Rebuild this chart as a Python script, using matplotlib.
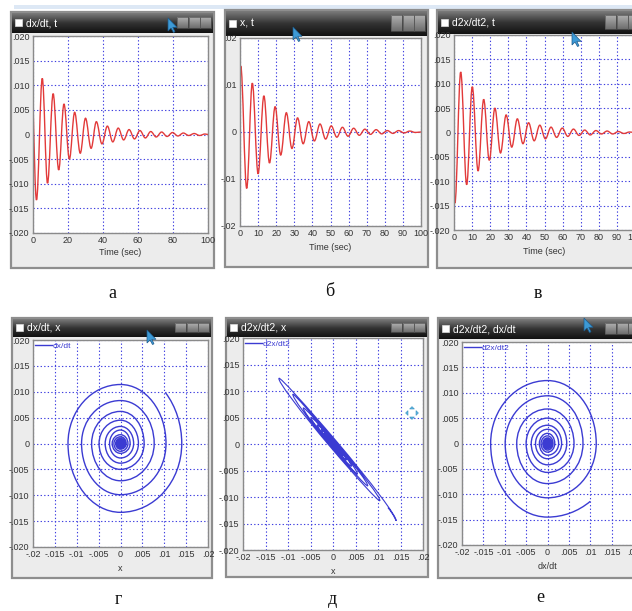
import numpy as np
import matplotlib
matplotlib.use('Agg')
import matplotlib.pyplot as plt
from matplotlib.path import Path
from matplotlib.patches import PathPatch, Rectangle, Polygon
from matplotlib.lines import Line2D
from matplotlib.colors import LinearSegmentedColormap

# ---------------- data ----------------
# dx/dt(t): start value and successive extrema
v_start = (0.0, 0.0065)
v_t = [2.0, 5.3, 8.3, 11.5, 14.7, 17.7, 20.8, 23.8, 27.0, 30.0, 33.2, 36.2, 39.4, 42.5,
       45.6, 48.7, 51.8, 54.9, 58.0, 61.1, 64.2, 67.3, 70.4, 73.5, 76.6, 79.7, 82.8,
       85.9, 89.0, 92.1, 95.2, 98.3]
v_y = [-0.0133, 0.0114, -0.0099, 0.0083, -0.0072, 0.0062, -0.0050, 0.0045, -0.0038,
       0.0033, -0.0028, 0.0026, -0.0019, 0.0017, -0.0015, 0.0013, -0.0011, 0.0010,
       -0.0009, 0.0008, -0.0007, 0.0006, -0.0005, 0.0005, -0.0004, 0.0004, -0.0003,
       0.0003, -0.0002, 0.0002, -0.0002, 0.0001]
# x(t)
x_start = (0.0, 0.0122)
x_t = [0.4, 3.7, 6.8, 10.0, 13.2, 16.3, 19.4, 22.5, 25.6, 28.7, 31.8, 34.9, 38.0, 41.1,
       44.2, 47.3, 50.4, 53.5, 56.6, 59.7, 62.8, 65.9, 69.0, 72.1, 75.2, 78.3, 81.4,
       84.5, 87.6, 90.7, 93.8, 96.9]
x_y = [0.0140, -0.0120, 0.0104, -0.0089, 0.0077, -0.0066, 0.0054, -0.0049, 0.0041,
       -0.0035, 0.0030, -0.0025, 0.0022, -0.0019, 0.0017, -0.0015, 0.0013, -0.0011,
       0.0010, -0.0009, 0.0008, -0.0007, 0.0006, -0.0005, 0.0005, -0.0004, 0.0003,
       -0.0003, 0.0003, -0.0002, 0.0002, -0.0001]
# d2x/dt2(t)
a_start = (0.0, -0.0120)
a_t = [0.5, 3.7, 7.0, 10.1, 13.3, 16.4, 19.5, 22.6, 25.7, 28.8, 31.9, 35.0, 38.1, 41.2,
       44.3, 47.4, 50.5, 53.6, 56.7, 59.8, 62.9, 66.0, 69.1, 72.2, 75.3, 78.4, 81.5,
       84.6, 87.7, 90.8, 93.9, 97.0]
a_y = [-0.0145, 0.0124, -0.0107, 0.0094, -0.0079, 0.0068, -0.0057, 0.0050, -0.0042,
       0.0036, -0.0030, 0.0028, -0.0023, 0.0020, -0.0017, 0.0015, -0.0013, 0.0011,
       -0.0010, 0.0009, -0.0008, 0.0007, -0.0006, 0.0005, -0.0005, 0.0004, -0.0003,
       0.0003, -0.0003, 0.0002, -0.0002, 0.0001]
t_end = (100.0, 0.0)

# phase portraits: start points
g_start = (0.0103, 0.0098)      # dx/dt vs x
e_start = (0.0100, -0.0114)     # d2x/dt2 vs dx/dt
d_start = (0.0122, -0.0120)     # d2x/dt2 vs x
# half-widths of the narrow d2x/dt2-vs-x loops, across the diagonal
d_halfw = [0.0009, -0.0008, 0.0007, -0.0006, 0.0006, -0.0005, 0.0005, -0.0004, 0.0004,
           -0.0003, 0.0003, -0.0003, 0.0002, -0.0002, 0.0002, -0.0002, 0.0002, -0.0001,
           0.0001, -0.0001, 0.0001, -0.0001, 0.0001, -0.0001, 0.0001, -0.0001, 0.0001,
           -0.0001, 0.0001, -0.0001, 0.0001, -0.0001]

titles = ['dx/dt, t', 'x, t', 'd2x/dt2, t', 'dx/dt, x', 'd2x/dt2, x', 'd2x/dt2, dx/dt']
letters = ['а', 'б', 'в', 'г', 'д', 'е']
legend_labels = ['dx/dt', 'd2x/dt2', 'd2x/dt2']
phase_xlabels = ['x', 'x', 'dx/dt']

y5_ticks = [-0.02, -0.015, -0.01, -0.005, 0, 0.005, 0.01, 0.015, 0.02]
y5_labels = ['-.020', '-.015', '-.010', '-.005', '0', '.005', '.010', '.015', '.020']
y10_ticks = [-0.02, -0.01, 0, 0.01, 0.02]
y10_labels = ['-.02', '-.01', '0', '.01', '.02']
px_ticks = [-0.02, -0.015, -0.01, -0.005, 0, 0.005, 0.01, 0.015, 0.02]
px_labels = ['-.02', '-.015', '-.01', '-.005', '0', '.005', '.01', '.015', '.02']
t20_ticks = [0, 20, 40, 60, 80, 100]
t10_ticks = [0, 10, 20, 30, 40, 50, 60, 70, 80, 90, 100]

# ---------------- style ----------------
RED = '#e23a3a'
BLUE = '#3b3bd2'
GRID = '#3f3fe0'
TICKFONT = ['Liberation Sans Narrow', 'Liberation Sans', 'DejaVu Sans']

W, H = 632, 611
fig = plt.figure(figsize=(W / 100, H / 100), dpi=100)
fig.patch.set_facecolor('white')


def rect(l, t, r, b):
    return [l / W, 1 - b / H, (r - l) / W, (b - t) / H]


bg = fig.add_axes([0, 0, 1, 1])
bg.axis('off')
title_cmap = LinearSegmentedColormap.from_list('tb', ['#7a7a7a', '#333333', '#121212'])
btn_cmap = LinearSegmentedColormap.from_list('bt', ['#b0b0b0', '#6e6e6e'])

bg.add_patch(Rectangle((14, 5), W - 14, 4, fc='#dde8f5', ec='none'))


def window(l, t, r, b, tb, title):
    bg.add_patch(Rectangle((l, t), r - l, b - t, facecolor='#ececec',
                           edgecolor='#8e8e8e', lw=1.6, zorder=1))
    grad = np.linspace(0, 1, 40).reshape(-1, 1)
    bg.imshow(grad, extent=(l + 1, r - 1, tb, t + 1), cmap=title_cmap,
              aspect='auto', zorder=2)
    bg.add_patch(Rectangle((l + 4, (t + tb) / 2 - 3.5), 7, 7, fc='white',
                           ec='#dddddd', lw=0.5, zorder=3))
    bg.text(l + 15, (t + tb) / 2 + 0.5, title, color='white', va='center', ha='left',
            fontsize=7.5, family=TICKFONT, zorder=4)
    for i in range(3):
        x0 = r - 37 + i * 11.5
        bg.imshow(grad, extent=(x0, x0 + 11, tb - 5, t + 5), cmap=btn_cmap,
                  aspect='auto', zorder=3)
        bg.add_patch(Rectangle((x0, t + 5), 11, tb - t - 10, fc='none',
                               ec='#555555', lw=0.5, zorder=4))


def style_axes(ax, xticks, xlabels, yticks, ylabels, xlabel, labelpad):
    ax.set_xticks(xticks)
    ax.set_xticklabels(xlabels)
    ax.set_yticks(yticks)
    ax.set_yticklabels(ylabels)
    ax.tick_params(length=0, labelsize=6.5, pad=2.5, colors='#333333')
    for lab in ax.get_xticklabels() + ax.get_yticklabels():
        lab.set_family(TICKFONT)
    ax.grid(True, color=GRID, ls=(0, (1.2, 2.0)), lw=0.8)
    ax.set_axisbelow(True)
    for sp in ax.spines.values():
        sp.set_color('#8a8a8a')
        sp.set_linewidth(1.0)
    ax.set_xlabel(xlabel, fontsize=6.5, family=TICKFONT, color='#333333',
                  labelpad=labelpad)


def wave_patch(start, ts, ys, end, color):
    pts = [start] + list(zip(ts, ys)) + [end]
    verts = [pts[0]]
    codes = [Path.MOVETO]
    h = 0.3642
    for i in range(len(pts) - 1):
        (ta, ya), (tb_, yb) = pts[i], pts[i + 1]
        dt = tb_ - ta
        if i == 0:
            c1 = (ta + dt / 3, ya + 0.45 * (yb - ya))
        else:
            c1 = (ta + h * dt, ya)
        c2 = (tb_ - h * dt, yb)
        verts += [c1, c2, (tb_, yb)]
        codes += [Path.CURVE4] * 3
    return PathPatch(Path(verts, codes), fill=False, ec=color, lw=1.0)


def partial_arc(S, E, e_is_u):
    # S, E in (u, w) frame; E lies on the u axis if e_is_u else on the w axis
    if e_is_u:
        Eu, Ew, Su, Sw = E[0], E[1], S[0], S[1]
    else:
        Eu, Ew, Su, Sw = E[1], E[0], S[1], S[0]
    c = np.clip(Su / Eu, -0.999, 0.999)
    psi = np.arccos(c)
    Wd = Sw / np.sin(psi)
    k = 4.0 / 3.0 * np.tan(psi / 4)
    p1 = (Su + k * Eu * np.sin(psi), Sw - k * Wd * np.cos(psi))
    p2 = (Eu, Ew + k * Wd)
    if not e_is_u:
        p1 = (p1[1], p1[0])
        p2 = (p2[1], p2[0])
    return p1, p2


def spiral_verts(start, pts, first_is_u):
    k = 0.5523
    verts = [start]
    codes = [Path.MOVETO]
    p1, p2 = partial_arc(start, pts[0], first_is_u)
    verts += [p1, p2, pts[0]]
    codes += [Path.CURVE4] * 3
    is_u = first_is_u
    for i in range(len(pts) - 1):
        P0 = np.array(pts[i])
        P3 = np.array(pts[i + 1])
        if is_u:
            corner = np.array([P0[0], P3[1]])
        else:
            corner = np.array([P3[0], P0[1]])
        P1 = P0 + k * (corner - P0)
        P2 = P3 + k * (corner - P3)
        verts += [tuple(P1), tuple(P2), tuple(P3)]
        codes += [Path.CURVE4] * 3
        is_u = not is_u
    return verts, codes


# ---------------- windows ----------------
win_boxes = [(11, 12, 214, 268, 33), (225, 10, 428, 267, 36), (437, 10, 642, 268, 34),
             (12, 318, 212, 578, 337), (226, 318, 428, 577, 337), (438, 318, 642, 578, 339)]
for (l, t, r, b, tb), ttl in zip(win_boxes, titles):
    window(l, t, r, b, tb, ttl)

letter_pos = [(112, 293), (330, 292), (538, 293), (118, 600), (332, 600), (540, 598)]
for (lx, ly), let in zip(letter_pos, letters):
    bg.text(lx, ly, let, ha='center', va='center', fontsize=13,
            family=['Liberation Serif', 'DejaVu Serif'], color='#111111')

bg.set_xlim(0, W)
bg.set_ylim(H, 0)

# ---------------- time-series panels ----------------
ax_a = fig.add_axes(rect(33, 36, 208, 233))
ax_a.set_xlim(0, 100)
ax_a.set_ylim(-0.02, 0.02)
style_axes(ax_a, t20_ticks, [str(v) for v in t20_ticks], y5_ticks, y5_labels,
           'Time (sec)', 2)
ax_a.add_patch(wave_patch(v_start, v_t, v_y, t_end, RED))

ax_b = fig.add_axes(rect(240, 38, 421, 226))
ax_b.set_xlim(0, 100)
ax_b.set_ylim(-0.02, 0.02)
style_axes(ax_b, t10_ticks, [str(v) for v in t10_ticks], y10_ticks, y10_labels,
           'Time (sec)', 3)
ax_b.add_patch(wave_patch(x_start, x_t, x_y, t_end, RED))

ax_c = fig.add_axes(rect(454, 35, 635, 230))
ax_c.set_xlim(0, 100)
ax_c.set_ylim(-0.02, 0.02)
style_axes(ax_c, t10_ticks, [str(v) for v in t10_ticks], y5_ticks, y5_labels,
           'Time (sec)', 3)
ax_c.add_patch(wave_patch(a_start, a_t, a_y, t_end, RED))

# ---------------- phase panels ----------------
phase_boxes = [(33, 340, 208, 547), (243, 338, 423, 550), (462, 342, 633, 545)]
phase_axes = []
for box, xl, lg in zip(phase_boxes, phase_xlabels, legend_labels):
    ax = fig.add_axes(rect(*box))
    ax.set_xlim(-0.02, 0.02)
    ax.set_ylim(-0.02, 0.02)
    style_axes(ax, px_ticks, px_labels, y5_ticks, y5_labels, xl, 3)
    ax.legend(handles=[Line2D([], [], color=BLUE, lw=1.0)], labels=[lg],
              loc='upper left', frameon=False, handlelength=2.0,
              handletextpad=0.1, borderaxespad=0.05, borderpad=0.2, labelcolor=BLUE,
              prop={'family': TICKFONT, 'size': 6})
    phase_axes.append(ax)

# г: dx/dt vs x
pts_g = []
for xe, ve in zip(x_y, v_y):
    pts_g.append((xe, 0.0))
    pts_g.append((0.0, ve))
vg, cg = spiral_verts(g_start, pts_g, True)
phase_axes[0].add_patch(PathPatch(Path(vg, cg), fill=False, ec=BLUE, lw=1.0))

# е: d2x/dt2 vs dx/dt
pts_e = []
for ae, ve in zip(a_y, v_y):
    pts_e.append((0.0, ae))
    pts_e.append((ve, 0.0))
ve_, ce_ = spiral_verts(e_start, pts_e, False)
phase_axes[2].add_patch(PathPatch(Path(ve_, ce_), fill=False, ec=BLUE, lw=1.0))

# д: d2x/dt2 vs x, built in a frame rotated along the diagonal
r2 = np.sqrt(2.0)


def to_sn(p):
    return ((p[0] - p[1]) / r2, (p[0] + p[1]) / r2)


pts_d = []
for xe, ae, hw in zip(x_y, a_y, d_halfw):
    pts_d.append(to_sn((xe, ae)))
    pts_d.append((0.0, hw))
vd, cd = spiral_verts(to_sn(d_start), pts_d, True)
vd_xy = [((s + n) / r2, (n - s) / r2) for s, n in vd]
phase_axes[1].add_patch(PathPatch(Path(vd_xy, cd), fill=False, ec=BLUE, lw=0.8))

# ---------------- cursors overlay ----------------
ov = fig.add_axes([0, 0, 1, 1], zorder=10)
ov.axis('off')
ov.patch.set_alpha(0)
arrow = np.array([(0, 0), (0, 13), (3, 10), (5.5, 14.5), (7, 13.8), (4.8, 9.3), (9, 9.3)])
for tx, ty in [(168, 18), (293, 27), (572, 32), (147, 330), (584, 318)]:
    ov.add_patch(Polygon(arrow + (tx, ty), closed=True, fc='#3d9ad6', ec='#1d5a8a', lw=0.5))
cx, cy = 412, 413
for dx, dy in [(0, -4), (0, 4), (-4, 0), (4, 0)]:
    ov.add_patch(Polygon([(cx + dx * 1.6, cy + dy * 1.6),
                          (cx + dx + dy * 0.6, cy + dy + dx * 0.6),
                          (cx + dx - dy * 0.6, cy + dy - dx * 0.6)],
                         closed=True, fc='#58b6e0', ec='#3a8fc0', lw=0.4))
ov.set_xlim(0, W)
ov.set_ylim(H, 0)

fig.savefig('out.png', dpi=100)
